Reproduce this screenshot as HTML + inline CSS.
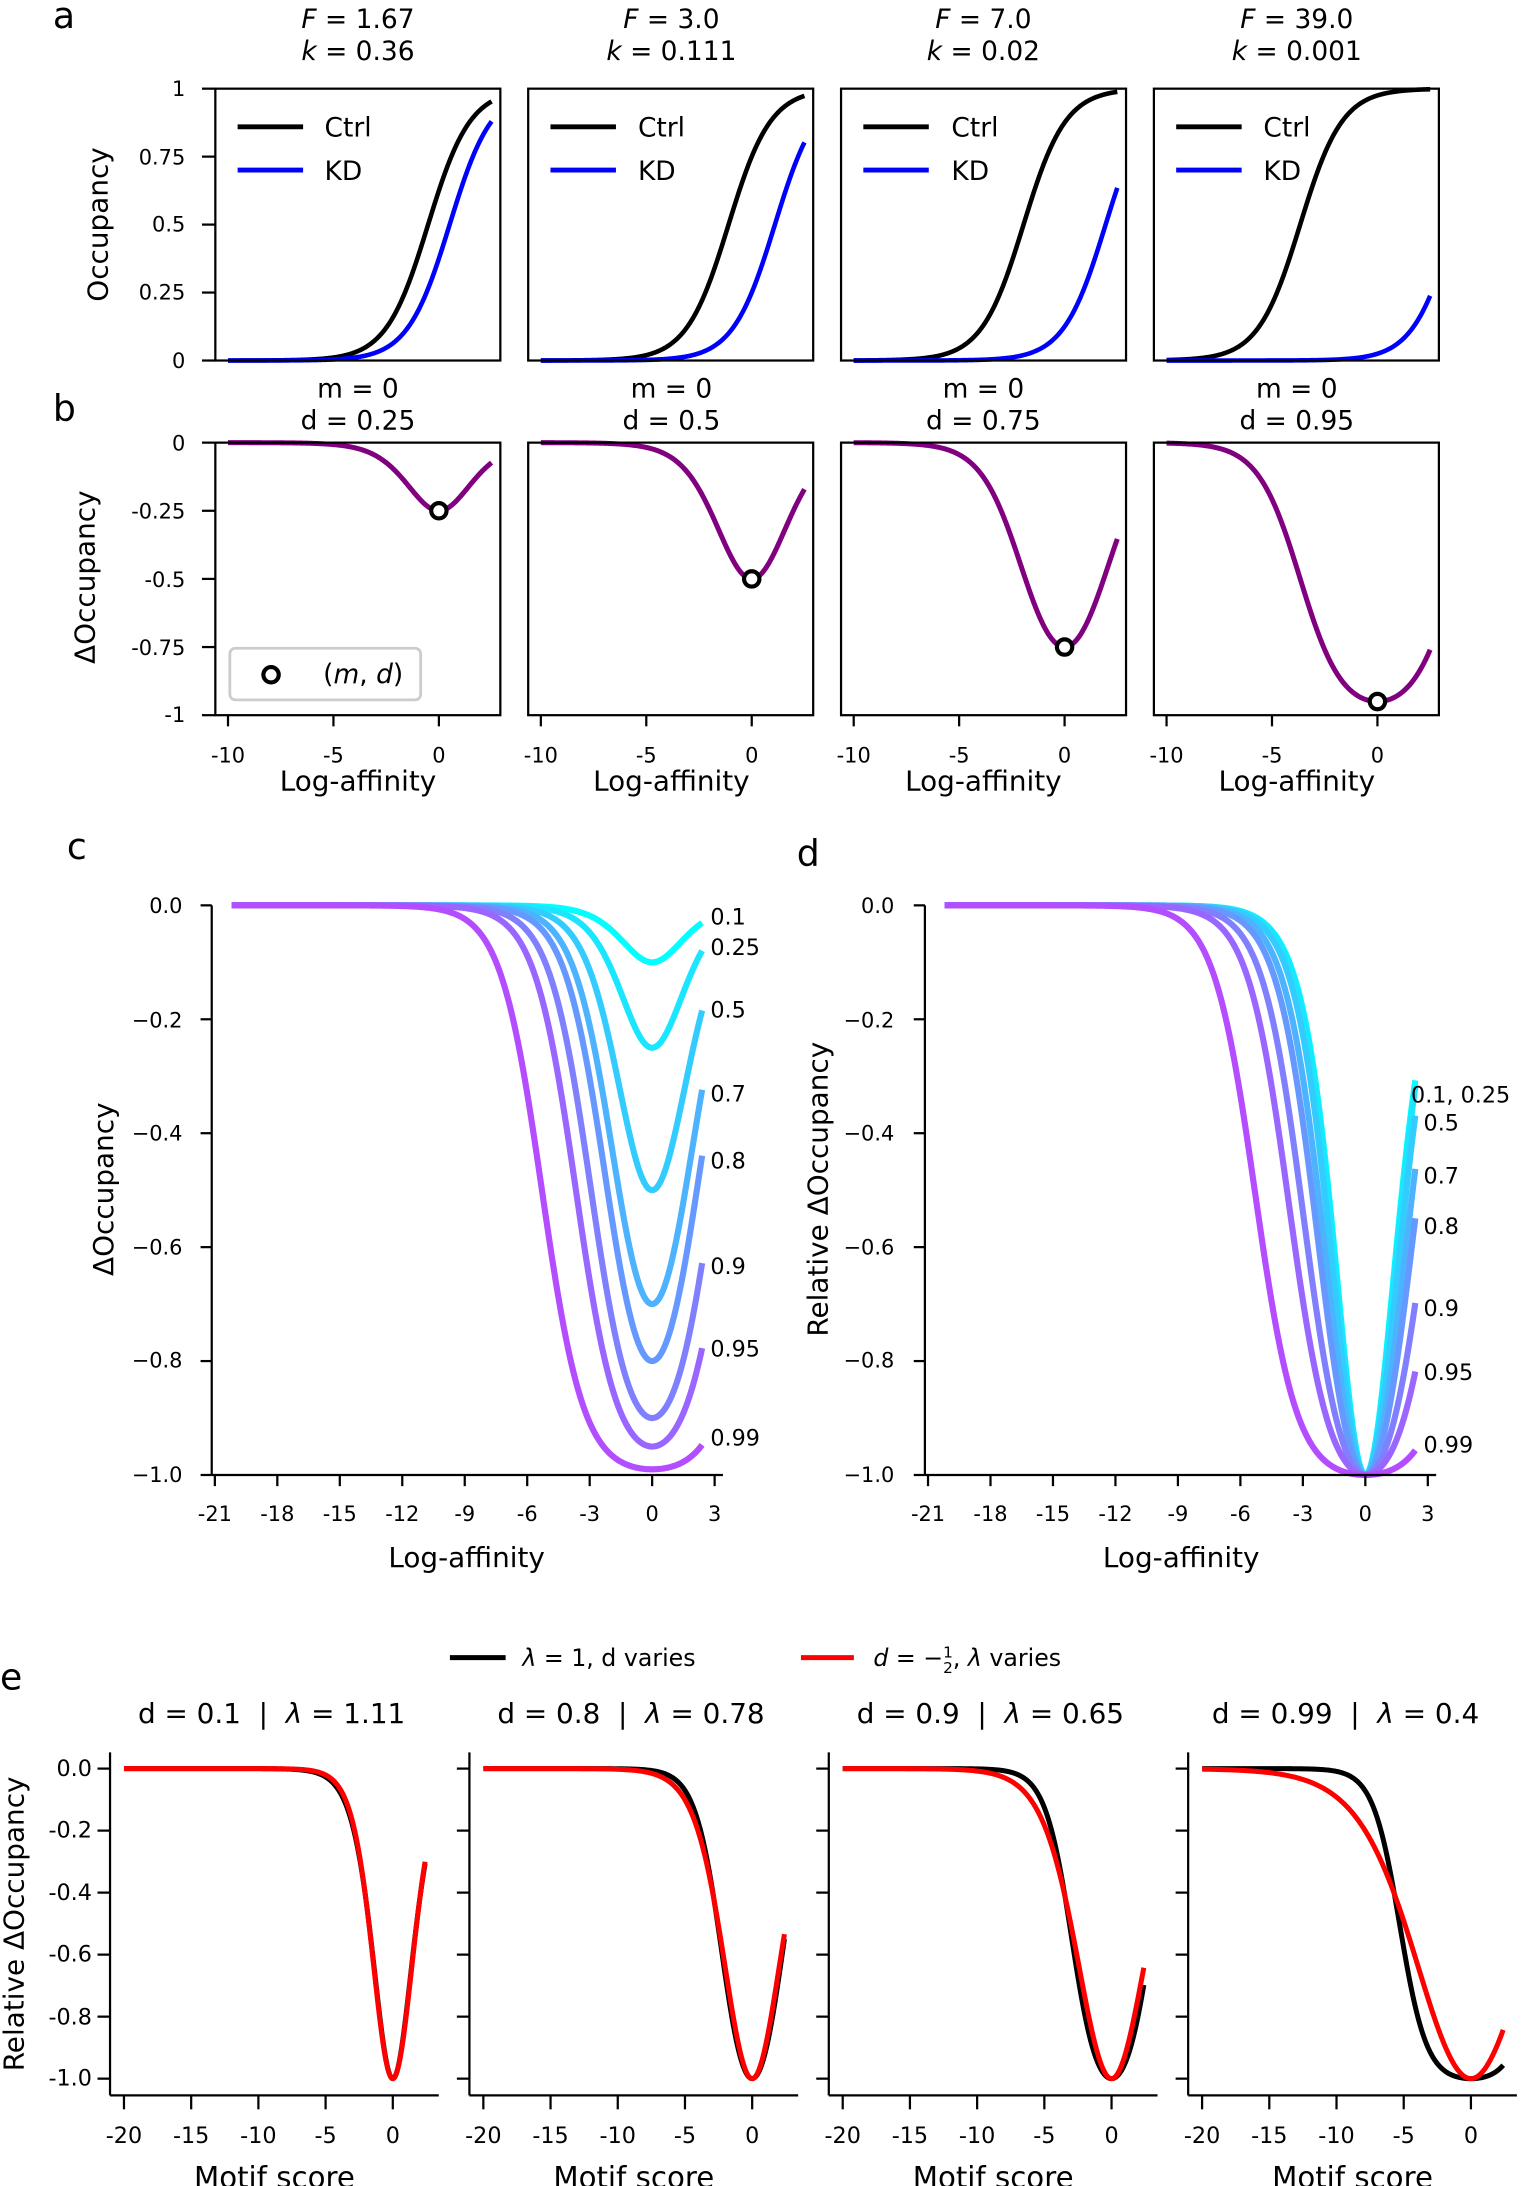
<!DOCTYPE html>
<html><head><meta charset="utf-8"><style>
html,body{margin:0;padding:0;background:#fff}
svg{display:block}
text{font-family:"DejaVu Sans","Liberation Sans",sans-serif;fill:#000}
</style></head><body>
<svg id="s" width="1535" height="2186" viewBox="0 0 1102 1568" preserveAspectRatio="none" xmlns="http://www.w3.org/2000/svg">
<g id="curves"></g>
<g id="axes" stroke="#000" stroke-width="1.6" fill="none"></g>
<g font-size="26">
<text x="38" y="20">a</text><text x="38" y="302">b</text>
<text x="48" y="616">c</text><text x="572" y="621">d</text>
<text x="0" y="1212">e</text>
</g>
<g font-size="19" text-anchor="middle">
<text x="257" y="20"><tspan font-style="italic">F</tspan> = 1.67</text><text x="257" y="43"><tspan font-style="italic">k</tspan> = 0.36</text>
<text x="482" y="20"><tspan font-style="italic">F</tspan> = 3.0</text><text x="482" y="43"><tspan font-style="italic">k</tspan> = 0.111</text>
<text x="706" y="20"><tspan font-style="italic">F</tspan> = 7.0</text><text x="706" y="43"><tspan font-style="italic">k</tspan> = 0.02</text>
<text x="931" y="20"><tspan font-style="italic">F</tspan> = 39.0</text><text x="931" y="43"><tspan font-style="italic">k</tspan> = 0.001</text>
<text x="257" y="285">m = 0</text><text x="257" y="308">d = 0.25</text>
<text x="482" y="285">m = 0</text><text x="482" y="308">d = 0.5</text>
<text x="706" y="285">m = 0</text><text x="706" y="308">d = 0.75</text>
<text x="931" y="285">m = 0</text><text x="931" y="308">d = 0.95</text>
</g>
<g font-size="15" text-anchor="end">
<text x="133" y="69">1</text><text x="133" y="118">0.75</text><text x="133" y="166">0.5</text><text x="133" y="215">0.25</text><text x="133" y="264">0</text>
<text x="133" y="323">0</text><text x="133" y="372">-0.25</text><text x="133" y="421">-0.5</text><text x="133" y="470">-0.75</text><text x="133" y="518">-1</text>
</g>
<g font-size="20" text-anchor="middle">
<text transform="translate(77,161) rotate(-90)">Occupancy</text>
<text transform="translate(68,414) rotate(-90)">ΔOccupancy</text>
</g>
<g font-size="19">
<text x="233" y="98">Ctrl</text><text x="233" y="129">KD</text>
<text x="458" y="98">Ctrl</text><text x="458" y="129">KD</text>
<text x="683" y="98">Ctrl</text><text x="683" y="129">KD</text>
<text x="907" y="98">Ctrl</text><text x="907" y="129">KD</text>
<text x="232" y="490">(<tspan font-style="italic">m</tspan>, <tspan font-style="italic">d</tspan>)</text>
</g>
<rect x="165" y="465" width="137" height="37" rx="4" fill="none" stroke="#ccc" stroke-width="2"/>
<circle cx="194.6" cy="484" r="5.5" fill="#fff" stroke="#000" stroke-width="3"/>
<g id="btxt" font-size="15" text-anchor="middle"></g>
<g id="etxt" font-size="16" text-anchor="middle"></g>
<g font-size="20" text-anchor="middle">
<text x="257" y="567">Log-affinity</text><text x="482" y="567">Log-affinity</text><text x="706" y="567">Log-affinity</text><text x="931" y="567">Log-affinity</text>
<text x="335" y="1124">Log-affinity</text><text x="848" y="1124">Log-affinity</text>
<text transform="translate(81,853) rotate(-90)">ΔOccupancy</text>
<text transform="translate(594,853) rotate(-90)">Relative ΔOccupancy</text>
<text transform="translate(17,1380) rotate(-90)">Relative ΔOccupancy</text>
</g>
<g font-size="21" text-anchor="middle">
<text x="197" y="1569">Motif score</text><text x="455" y="1569">Motif score</text><text x="713" y="1569">Motif score</text><text x="971" y="1569">Motif score</text>
</g>
<g font-size="15" text-anchor="end">
<text x="131" y="655">0.0</text><text x="131" y="737">−0.2</text><text x="131" y="818">−0.4</text><text x="131" y="900">−0.6</text><text x="131" y="981">−0.8</text><text x="131" y="1063">−1.0</text>
<text x="642" y="655">0.0</text><text x="642" y="737">−0.2</text><text x="642" y="818">−0.4</text><text x="642" y="900">−0.6</text><text x="642" y="981">−0.8</text><text x="642" y="1063">−1.0</text>
</g>
<g font-size="16" text-anchor="end">
<text x="66" y="1274">0.0</text><text x="66" y="1318">-0.2</text><text x="66" y="1363">-0.4</text><text x="66" y="1407">-0.6</text><text x="66" y="1452">-0.8</text><text x="66" y="1496">-1.0</text>
</g>
<g font-size="16">
<text x="510" y="663">0.1</text><text x="510" y="685">0.25</text><text x="510" y="730">0.5</text><text x="510" y="790">0.7</text><text x="510" y="838">0.8</text><text x="510" y="914">0.9</text><text x="510" y="973">0.95</text><text x="510" y="1037">0.99</text>
<text x="1013" y="791">0.1, 0.25</text><text x="1022" y="811">0.5</text><text x="1022" y="849">0.7</text><text x="1022" y="885">0.8</text><text x="1022" y="944">0.9</text><text x="1022" y="990">0.95</text><text x="1022" y="1042">0.99</text>
</g>
<line x1="323" y1="1189" x2="363" y2="1189" stroke="#000" stroke-width="3.5"/>
<line x1="575" y1="1189" x2="613" y2="1189" stroke="#f00" stroke-width="3.5"/>
<g font-size="17">
<text x="375" y="1195"><tspan font-style="italic">λ</tspan> = 1, d varies</text>
<text x="627" y="1195"><tspan font-style="italic">d</tspan> = −<tspan font-size="11" dy="-6">1</tspan><tspan font-size="11" dx="-7" dy="11">2</tspan><tspan dy="-5">, </tspan><tspan font-style="italic">λ</tspan> varies</text>
</g>
<g font-size="20" text-anchor="middle">
<text x="195" y="1236">d = 0.1&#160;&#160;|&#160;&#160;<tspan font-style="italic">λ</tspan> = 1.11</text>
<text x="453" y="1236">d = 0.8&#160;&#160;|&#160;&#160;<tspan font-style="italic">λ</tspan> = 0.78</text>
<text x="711" y="1236">d = 0.9&#160;&#160;|&#160;&#160;<tspan font-style="italic">λ</tspan> = 0.65</text>
<text x="966" y="1236">d = 0.99&#160;&#160;|&#160;&#160;<tspan font-style="italic">λ</tspan> = 0.4</text>
</g>
</svg>
<script>
(function(){
var NS="http://www.w3.org/2000/svg";
var C=document.getElementById('curves'),A=document.getElementById('axes'),BT=document.getElementById('btxt'),ET=document.getElementById('etxt');
var S=document.getElementById('s');
function el(p,tag,at){var e=document.createElementNS(NS,tag);for(var k in at)e.setAttribute(k,at[k]);p.appendChild(e);return e;}
function o(c,x){var v=c*Math.exp(x);return v/(1+v);}
function dl(d,x){var c=(1+d)/(1-d);return o(1/c,x)-o(c,x);}
function path(f,X,Y,x0,x1,col,w){var s="";for(var i=0;i<=300;i++){var x=x0+(x1-x0)*i/300;s+=(i?"L":"M")+X(x).toFixed(2)+","+Y(f(x)).toFixed(2);}
el(C,'path',{d:s,fill:'none',stroke:col,'stroke-width':w,'stroke-linejoin':'round'});}
function ln(x1,y1,x2,y2){el(A,'line',{x1:x1,y1:y1,x2:x2,y2:y2});}
var ds=[0.25,0.5,0.75,0.95];
for(var i=0;i<4;i++){
 var L=154.6+224.6*i,W=204.6;
 var X=(function(L){return function(x){return L+(x+10.6)*15.14;};})(L);
 var d=ds[i],F=(1+d)/(1-d);
 var Ya=function(v){return 258.6-v*195;};
 path(function(x){return o(F,x);},X,Ya,-10,2.5,'#000',3.3);
 path(function(x){return o(1/F,x);},X,Ya,-10,2.5,'#00f',3.3);
 el(A,'rect',{x:L,y:63.6,width:W,height:195});
 el(C,'line',{x1:L+16,y1:91,x2:L+63,y2:91,stroke:'#000','stroke-width':3.5});
 el(C,'line',{x1:L+16,y1:122,x2:L+63,y2:122,stroke:'#00f','stroke-width':3.5});
 var Yb=function(v){return 317.5-v*195.5;};
 path(function(x){return dl(d,x);},X,Yb,-10,2.5,'#800080',3.6);
 el(A,'rect',{x:L,y:317.5,width:W,height:195.5});
 el(S,'circle',{cx:X(0),cy:Yb(-d),r:5.5,fill:'#fff',stroke:'#000','stroke-width':3});
 [-10,-5,0].forEach(function(t){ln(X(t),513,X(t),521);var tx=el(BT,'text',{x:X(t),y:547});tx.textContent=String(t);});
 if(i==0){[0,0.25,0.5,0.75,1].forEach(function(v){ln(145,Ya(v),154.6,Ya(v));ln(145,Yb(-v),154.6,Yb(-v));});}
}
var dd=[0.1,0.25,0.5,0.7,0.8,0.9,0.95,0.99];
function col(t){return 'rgb('+Math.round(255*t)+','+Math.round(255*(1-t))+',255)';}
[[152,false],[664,true]].forEach(function(p){
 var sp=p[0],rel=p[1];
 var X=function(x){return sp+(x+21.15)*14.95;};
 var Y=function(v){return 649.4-v*408.6;};
 for(var j=0;j<dd.length;j++){(function(d,j){path(function(x){var v=dl(d,x);return rel?v/d:v;},X,Y,-20.2,2.4,col(j/10),4.4);})(dd[j],j);}
 ln(sp,649.4,sp,1058);ln(sp,1058,X(3.4),1058);
 for(var v=0;v<=5;v++)ln(sp-8,Y(-v/5),sp,Y(-v/5));
 for(var t=-21;t<=3;t+=3){ln(X(t),1058,X(t),1066);var tx=el(BT,'text',{x:X(t),y:1091});tx.textContent=String(t);}
});
var de=[0.1,0.8,0.9,0.99],la=[1.11,0.78,0.65,0.4];
for(var i=0;i<4;i++){
 var sp=79+258*i;
 var X=(function(sp){return function(x){return sp+10+(x+20)*9.65;};})(sp);
 var Y=function(v){return 1268.6-v*222.4;};
 (function(d,l){
  path(function(x){return dl(d,x)/d;},X,Y,-20,2.4,'#000',3.6);
  path(function(x){return dl(0.5,l*x)/0.5;},X,Y,-20,2.4,'#f00',3.6);
 })(de[i],la[i]);
 ln(sp,1257,sp,1503);ln(sp,1503,sp+236,1503);
 for(var v=0;v<=5;v++)ln(sp-9,Y(-v/5),sp,Y(-v/5));
 for(var t=-20;t<=0;t+=5){ln(X(t),1503,X(t),1513);var tx=el(ET,'text',{x:X(t),y:1537});tx.textContent=String(t);}
}
})();
</script>
</body></html>
